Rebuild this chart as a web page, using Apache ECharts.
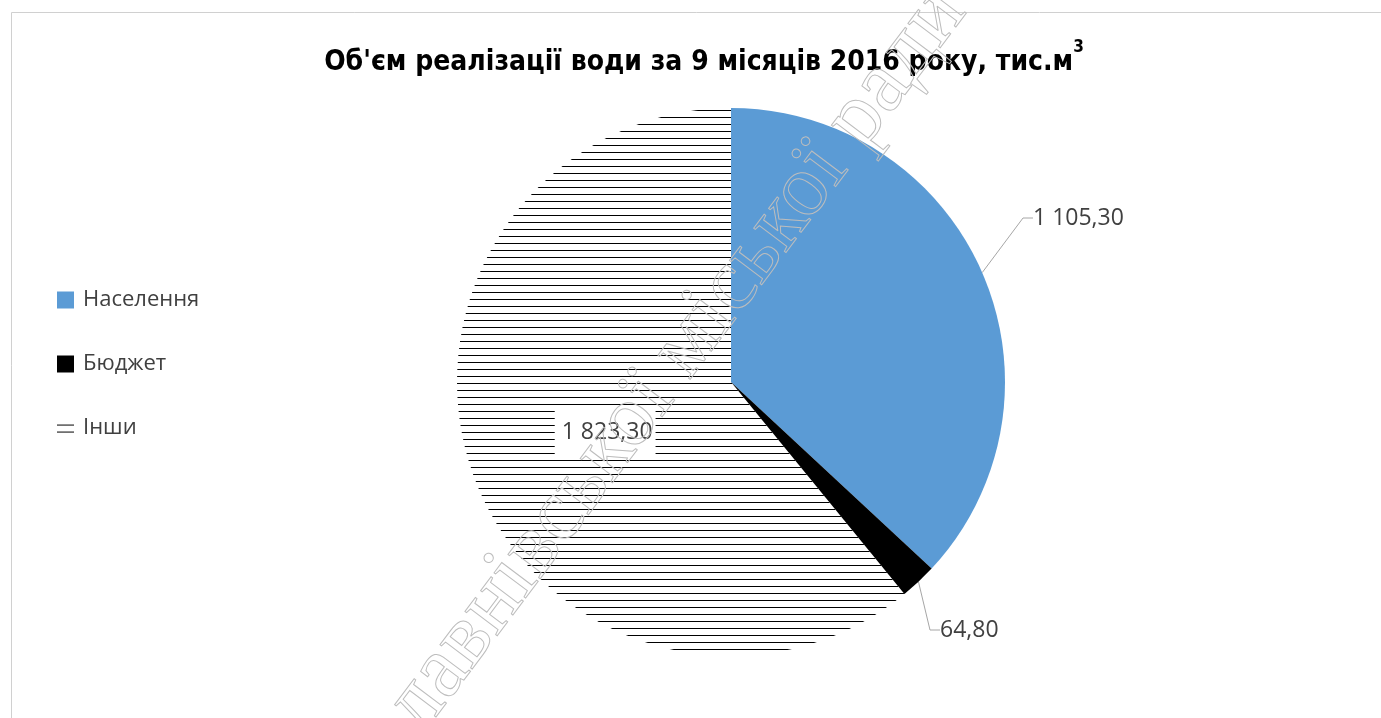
<!DOCTYPE html>
<html><head><meta charset="utf-8">
<script src="https://cdn.jsdelivr.net/npm/echarts@6/dist/echarts.min.js"></script>
<style>html,body{margin:0;padding:0;background:#fff}#c{width:1381px;height:718px}</style>
</head><body><div id="c"></div>
<script>
const categories = ['Населення', 'Бюджет', 'Інши'];
const values = [1105.3, 64.8, 1823.3];
const titleText = "Об'єм реалізації води за 9 місяців 2016 року, тис.м";
const titleSup = '3';
const watermarkText = 'лавнівської міської ради';

const labelPos = [[1033, 218], [940, 630], null];
const FONT = '"Open Sans", "Liberation Sans", sans-serif';
const TFONT = '"Liberation Sans Narrow", "DejaVu Sans Condensed", "Open Sans", sans-serif';

function fmt(v) {
  const s = v.toFixed(2).split('.');
  return s[0].replace(/\B(?=(\d{3})+(?!\d))/g, ' ') + ',' + s[1];
}
function hatch() {
  const c = document.createElement('canvas');
  c.width = 8; c.height = 7;
  const g = c.getContext('2d');
  g.fillStyle = '#000';
  g.fillRect(0, 5, 8, 1);
  return c;
}
const colors = ['#5B9BD5', '#000000', { image: hatch(), repeat: 'repeat' }];

const chart = echarts.init(document.getElementById('c'), null, { renderer: 'canvas' });
chart.setOption({
  backgroundColor: '#fff',
  animation: false,
  title: {
    text: '{t|' + titleText + '}{s|' + titleSup + '}',
    left: 699,
    textAlign: 'center',
    top: 34,
    textStyle: {
      rich: {
        t: { fontSize: 28, fontWeight: 'bold', fontFamily: TFONT, color: '#000', lineHeight: 48 },
        s: { fontSize: 17, fontWeight: 'bold', fontFamily: TFONT, color: '#000', lineHeight: 8, verticalAlign: 'top' }
      }
    }
  },
  legend: {
    orient: 'vertical',
    left: 57,
    top: 288,
    padding: 0,
    icon: 'rect',
    itemWidth: 17,
    itemHeight: 17,
    itemGap: 40,
    data: categories,
    textStyle: { fontSize: 22, color: '#404040', fontFamily: FONT, lineHeight: 24, padding: [0, 0, 0, 4] }
  },
  graphic: [
    { type: 'rect', left: 9, top: 10, silent: true, z: 0,
      shape: { x: 0.5, y: 0.5, width: 1500, height: 900 },
      style: { fill: 'none', stroke: '#d0d0d0', lineWidth: 1 } },
    { type: 'text', x: 676, y: 360, rotation: 53 * Math.PI / 180, silent: true, z: 100,
      style: { text: watermarkText, font: '88px "Liberation Serif", "DejaVu Serif", serif',
        fill: 'none', stroke: '#bdbdbd', lineWidth: 1, align: 'center', verticalAlign: 'middle' } }
  ],
  series: [{
    type: 'pie',
    center: [731, 382],
    radius: 274,
    startAngle: 90,
    clockwise: true,
    avoidLabelOverlap: false,
    emphasis: { disabled: true },
    itemStyle: { borderWidth: 0 },
    label: {
      show: true,
      formatter: p => fmt(p.value),
      fontFamily: FONT, fontSize: 23, color: '#404040'
    },
    labelLine: { show: true, length: 30, length2: 10, lineStyle: { color: '#a6a6a6', width: 1 } },
    labelLayout: function (p) {
      const o = labelPos[p.dataIndex];
      return o ? { x: o[0], y: o[1], align: 'left', verticalAlign: 'middle' } : { dx: 6, dy: 3 };
    },
    data: categories.map((n, i) => ({
      name: n,
      value: values[i],
      itemStyle: { color: colors[i] },
      label: i === 2 ? { position: 'inside', backgroundColor: '#fff', padding: [14, 3, 10, 7] } : { position: 'outside' },
      labelLine: { show: i !== 2 }
    }))
  }]
});
</script>
</body></html>
